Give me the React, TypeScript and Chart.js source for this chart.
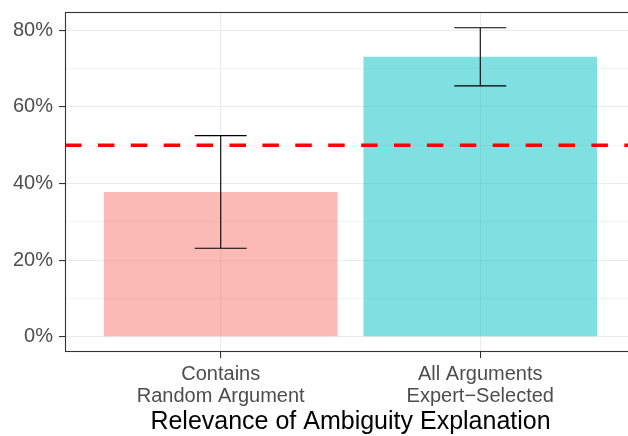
import React, { useEffect, useRef } from 'react';
import { Chart, registerables } from 'chart.js';

Chart.register(...registerables);

// ---- data ----
const CATEGORY_LINES: string[][] = [
  ['Contains', 'Random Argument'],
  ['All Arguments', 'Expert\u2212Selected'],
];
const CATEGORY_POSITIONS = [1, 2];
const PERCENT_VALUES = [37.8, 73.1];
const CI_LOWER = [23.1, 65.5];
const CI_UPPER = [52.5, 80.7];
const CHANCE_LEVEL = 50;
const Y_MAJOR_TICKS = [0, 20, 40, 60, 80];
const Y_MINOR_TICKS = [10, 30, 50, 70];
const X_TITLE = 'Relevance of Ambiguity Explanation';

// ---- styles ----
const BAR_COLORS = ['rgba(248,118,109,0.5)', 'rgba(0,191,196,0.5)'];
const ERR_HALF_WIDTH = 0.1;
const FONT_FAMILY = '"Liberation Sans", Arial, Helvetica, sans-serif';
const GRID_COLOR = '#EBEBEB';
const AXIS_COLOR = '#333333';
const TEXT_COLOR = '#4D4D4D';

const overlayPlugin = {
  id: 'overlay',
  afterDatasetsDraw(chart: any) {
    const { ctx, chartArea, scales } = chart;
    const xs = scales.x;
    const ys = scales.y;
    ctx.save();
    ctx.strokeStyle = '#000000';
    ctx.lineWidth = 1.1;
    CATEGORY_POSITIONS.forEach((pos, i) => {
      const xc = xs.getPixelForValue(pos);
      const xl = xs.getPixelForValue(pos - ERR_HALF_WIDTH);
      const xr = xs.getPixelForValue(pos + ERR_HALF_WIDTH);
      const yl = ys.getPixelForValue(CI_LOWER[i]);
      const yh = ys.getPixelForValue(CI_UPPER[i]);
      ctx.beginPath();
      ctx.moveTo(xl, yh);
      ctx.lineTo(xr, yh);
      ctx.moveTo(xc, yh);
      ctx.lineTo(xc, yl);
      ctx.moveTo(xl, yl);
      ctx.lineTo(xr, yl);
      ctx.stroke();
    });
    const yr = ys.getPixelForValue(CHANCE_LEVEL);
    ctx.strokeStyle = '#FF0000';
    ctx.lineWidth = 3.6;
    ctx.setLineDash([16.5, 16.4]);
    ctx.beginPath();
    ctx.moveTo(chartArea.left, yr);
    ctx.lineTo(chartArea.right, yr);
    ctx.stroke();
    ctx.restore();
  },
  afterDraw(chart: any) {
    const { ctx, chartArea } = chart;
    ctx.save();
    ctx.strokeStyle = AXIS_COLOR;
    ctx.lineWidth = 1.1;
    ctx.strokeRect(
      chartArea.left + 0.5,
      chartArea.top + 0.5,
      chartArea.right - chartArea.left,
      chartArea.bottom - chartArea.top - 1
    );
    ctx.restore();
  },
};

export default function App() {
  const canvasRef = useRef<HTMLCanvasElement | null>(null);

  useEffect(() => {
    const canvas = canvasRef.current;
    if (!canvas) return;
    const chart = new Chart(canvas, {
      type: 'bar',
      data: {
        datasets: [
          {
            data: CATEGORY_POSITIONS.map((x, i) => ({ x, y: PERCENT_VALUES[i] })),
            backgroundColor: BAR_COLORS,
            borderWidth: 0,
            barPercentage: 0.9,
            categoryPercentage: 1,
          },
        ],
      },
      options: {
        responsive: false,
        animation: false,
        devicePixelRatio: 1,
        layout: { padding: { top: 12, left: 0, right: 0, bottom: 0 } },
        plugins: {
          legend: { display: false },
          tooltip: { enabled: false },
        },
        scales: {
          x: {
            type: 'linear',
            min: 0.4,
            max: 2.6,
            offset: false,
            afterBuildTicks: (scale: any) => {
              scale.ticks = CATEGORY_POSITIONS.map((v) => ({ value: v }));
            },
            afterFit: (scale: any) => {
              scale.height = 84;
              scale.paddingLeft = 0;
              scale.paddingRight = 0;
            },
            grid: {
              offset: false,
              color: GRID_COLOR,
              lineWidth: 1.1,
              tickColor: AXIS_COLOR,
              tickLength: 6,
              tickWidth: 1.1,
            },
            border: { display: false },
            ticks: {
              autoSkip: false,
              maxRotation: 0,
              minRotation: 0,
              padding: 6,
              color: TEXT_COLOR,
              font: { family: FONT_FAMILY, size: 20, lineHeight: 1.085 },
              callback: (value: any) => {
                const idx = CATEGORY_POSITIONS.indexOf(Number(value));
                return idx >= 0 ? CATEGORY_LINES[idx] : '';
              },
            },
            title: {
              display: true,
              text: X_TITLE,
              color: '#000000',
              font: { family: FONT_FAMILY, size: 25, lineHeight: 1 },
              padding: { top: 0, bottom: 1.2 },
            },
          },
          y: {
            type: 'linear',
            min: -4.0,
            max: 84.8,
            afterBuildTicks: (scale: any) => {
              scale.ticks = [...Y_MAJOR_TICKS, ...Y_MINOR_TICKS]
                .sort((a, b) => a - b)
                .map((v) => ({ value: v }));
            },
            afterFit: (scale: any) => {
              scale.width = 65;
              scale.paddingTop = 0;
              scale.paddingBottom = 0;
            },
            grid: {
              color: GRID_COLOR,
              lineWidth: (ctx: any) => (Y_MAJOR_TICKS.includes(ctx.tick?.value) ? 1.1 : 0.55),
              tickColor: (ctx: any) =>
                Y_MAJOR_TICKS.includes(ctx.tick?.value) ? AXIS_COLOR : 'rgba(0,0,0,0)',
              tickLength: 6,
              tickWidth: 1.1,
            },
            border: { display: false },
            ticks: {
              autoSkip: false,
              padding: 6,
              color: TEXT_COLOR,
              font: { family: FONT_FAMILY, size: 20 },
              callback: (value: any) =>
                Y_MAJOR_TICKS.includes(Number(value)) ? `${value}%` : '',
            },
          },
        },
      } as any,
      plugins: [overlayPlugin],
    });
    return () => chart.destroy();
  }, []);

  return (
    <div
      style={{
        position: 'fixed',
        left: 0,
        top: 0,
        width: 628,
        height: 436,
        overflow: 'hidden',
        background: '#ffffff',
      }}
    >
      <canvas ref={canvasRef} width={636} height={436} style={{ display: 'block' }} />
    </div>
  );
}
